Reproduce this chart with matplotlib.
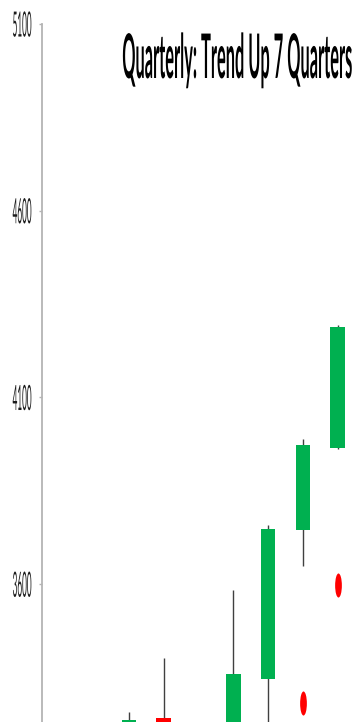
import matplotlib
matplotlib.use("Agg")
import matplotlib.pyplot as plt
from matplotlib.patheffects import AbstractPathEffect
from matplotlib.transforms import Affine2D
from matplotlib.path import Path

# ---- data (quarterly OHLC) ----
opens = [3150, 3242, 3180, 3200, 3346, 3744, 3966]
highs = [3258, 3402, 3232, 3584, 3758, 3988, 4295]
lows = [3100, 3100, 3050, 3150, 3200, 3648, 3963]
closes = [3236, 3150, 3120, 3359, 3747, 3972, 4290]

signal_idx = [5, 6]
signal_vals = [3282, 3597]

yticks = [3600, 4100, 4600, 5100]
title = "Quarterly: Trend Up 7 Quarters"

GREEN = "#00b050"
RED = "#ff0000"


class Tall(AbstractPathEffect):
    """Stretch glyphs vertically to mimic a very condensed face."""

    def __init__(self, sy, centre=False):
        super().__init__()
        self.sy = sy
        self.centre = centre

    def draw_path(self, renderer, gc, tpath, affine, rgbFace=None):
        yc = 0
        if self.centre:
            e = tpath.get_extents()
            yc = (e.y0 + e.y1) / 2
        st = Affine2D().translate(0, -yc).scale(1, self.sy).translate(0, yc)
        renderer.draw_path(gc, tpath, st + affine, rgbFace)


fig = plt.figure(figsize=(3.55, 7.22), dpi=100)
ax = fig.add_axes([42 / 355, 0, 313 / 355, 698 / 722])

x = list(range(len(opens)))
ax.vlines(x, lows, highs, color="#404040", lw=1.0, zorder=1)
bottoms = [min(o, c) for o, c in zip(opens, closes)]
heights = [abs(c - o) for o, c in zip(opens, closes)]
colors = [GREEN if c >= o else RED for o, c in zip(opens, closes)]
ax.bar(x, heights, bottom=bottoms, width=0.42, color=colors, zorder=2)

# red signal ovals
oval = Path.unit_circle().transformed(Affine2D().scale(0.28, 1))
ax.scatter(signal_idx, signal_vals, marker=oval, s=300, color=RED, lw=0, zorder=3)

ax.set_xlim(-2.5, 6.5)
ax.set_ylim(3231, 5100)
ax.set_yticks(yticks)
ax.set_xticks([])

for side in ["top", "right", "bottom"]:
    ax.spines[side].set_visible(False)
ax.spines["left"].set_color("#b4b4b4")
ax.spines["left"].set_linewidth(1.3)
ax.tick_params(axis="y", length=2.5, width=1, color="#b4b4b4", pad=5,
               labelsize=5.9, labelcolor="#1a1a1a")
for lab in ax.get_yticklabels():
    lab.set_family(["Lato", "DejaVu Sans"])
    lab.set_path_effects([Tall(4.25, centre=True)])

fig.text(352 / 355, 1 - 78 / 722, title, ha="right", va="baseline",
         fontsize=11.8, fontweight="bold", family=["Lato", "DejaVu Sans"],
         color="black", path_effects=[Tall(3.75)])

fig.savefig("out.png", dpi=100)
